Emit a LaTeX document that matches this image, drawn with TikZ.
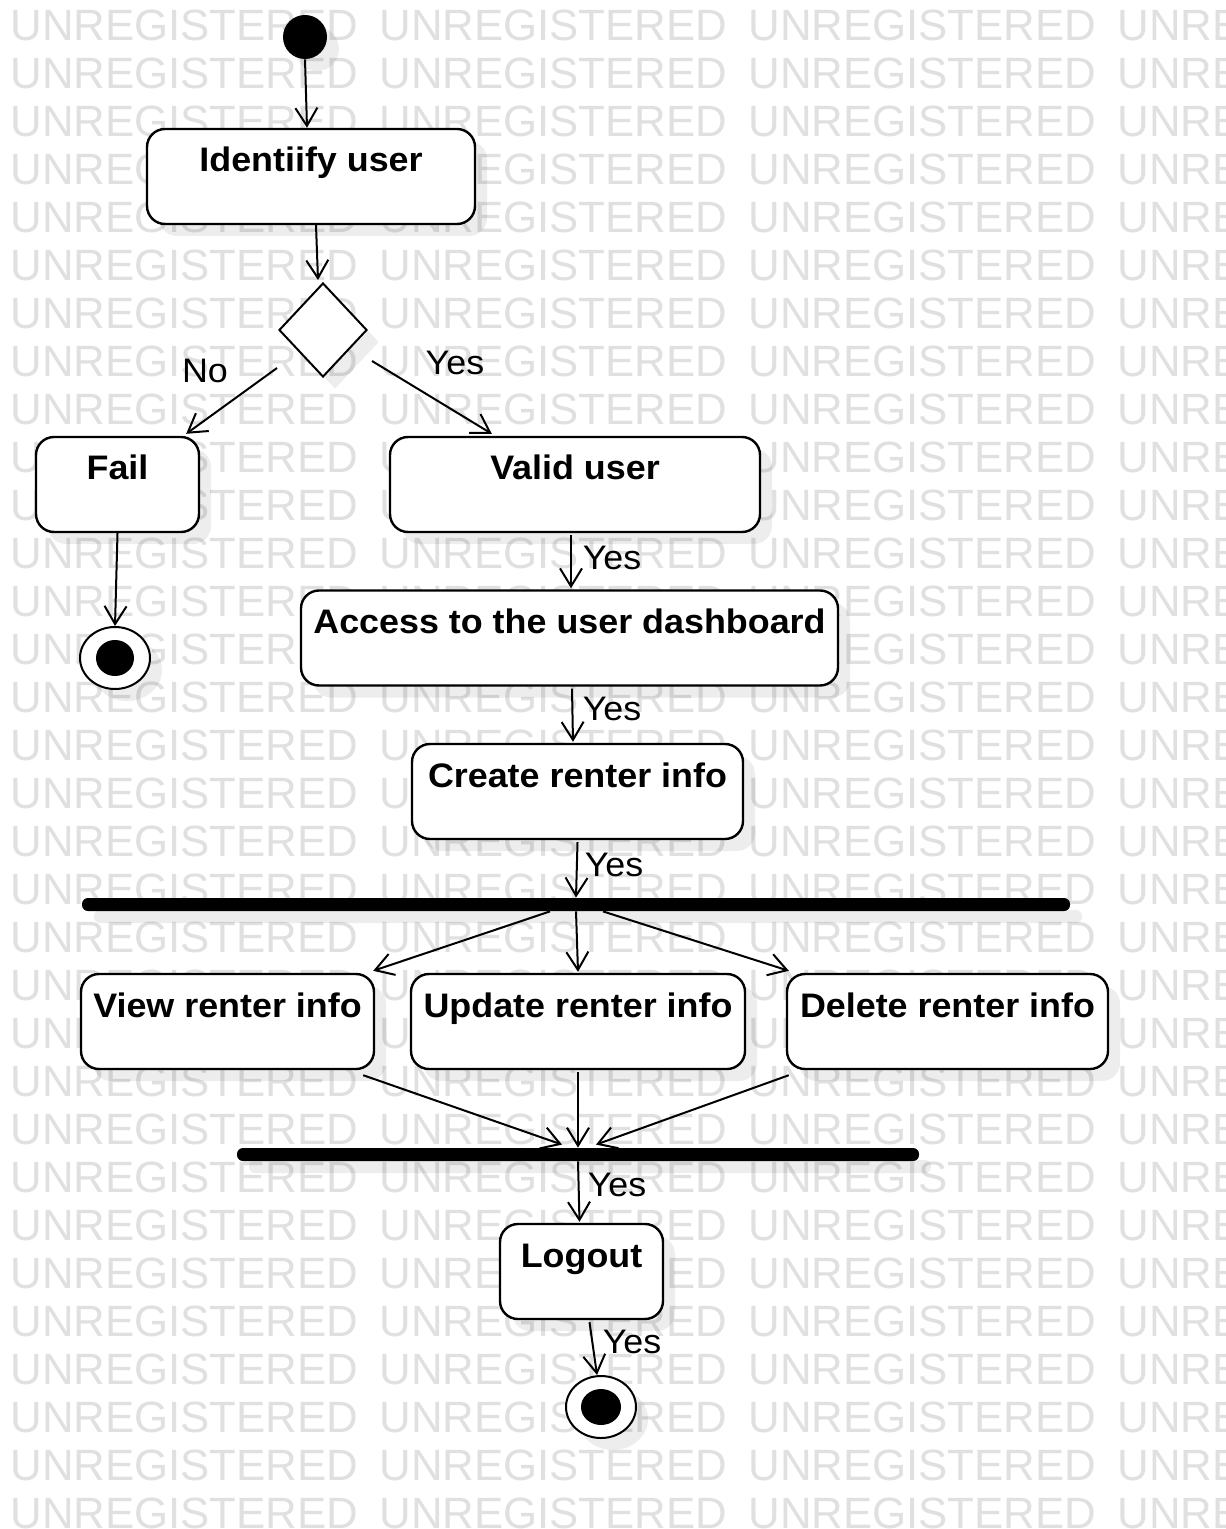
\documentclass[tikz,border=0pt]{standalone}
\usepackage{fontspec}
\setmainfont{Liberation Sans}
\newfontfamily\diagfont[FakeStretch=1.055]{Liberation Sans}
\usetikzlibrary{arrows.meta,shapes.geometric,calc,shadows}

\begin{document}
\begin{tikzpicture}[x=0.5pt,y=-0.5pt,
  softshadow/.style={drop shadow={shadow xshift=6pt,shadow yshift=-6pt,opacity=0.07,fill=black}},
  act/.style={draw=black,line width=1.2pt,fill=white,rounded corners=9pt,
    inner xsep=3pt,inner ysep=0pt,text height=12pt,text depth=16.5pt,
    minimum height=47.5pt,font=\diagfont\fontsize{17}{19}\selectfont\bfseries,softshadow},
  flow/.style={draw,line width=1pt,-{Straight Barb[length=9pt,width=11pt,line width=1pt]}},
  lbl/.style={font=\diagfont\fontsize{17}{19}\selectfont,inner sep=0pt},
  bar/.style={fill=black,rounded corners=3pt,minimum height=6.5pt,inner sep=0pt,softshadow},
  wm/.style={font=\fontsize{21.9}{24}\selectfont,text=black!12,anchor=west,inner sep=0pt}
]
% page and background
\useasboundingbox[fill=white] (0,0) rectangle (1225,1529);

% watermark text
\begin{scope}
  \clip (0,0) rectangle (1225,1529);
  \foreach \r in {0,...,31}
    \foreach \c in {0,...,3}
      \node[wm] (wm-\r-\c) at (10+369*\c, 25+48*\r) {UNREGISTERED};
\end{scope}

% start and decision
\node[circle,fill=black,minimum size=22pt,inner sep=0pt,softshadow] (init) at (305,37) {};
\node[act,minimum width=164pt] (ident) at (311,176.5) {Identiify user};
\node[diamond,draw,line width=1pt,fill=white,minimum width=44pt,minimum height=47pt,
      inner sep=0pt,softshadow] (dec) at (323,330) {};

% first level
\node[act,minimum width=81.5pt] (fail) at (117.5,484.5) {Fail};
\node[act,minimum width=185pt] (valid) at (575,484.5) {Valid user};

% failure end
\node[ellipse,draw,line width=1pt,fill=white,minimum width=35pt,minimum height=31pt,
      inner sep=0pt,softshadow] (fin1) at (115,658) {};
\node[ellipse,fill=black,minimum width=19pt,minimum height=18pt,inner sep=0pt] (fin1c) at (fin1) {};

% main sequence
\node[act,minimum width=268.5pt] (access) at (569.5,638) {Access to the user dashboard};
\node[act,minimum width=165.5pt] (create) at (577.5,791.5) {Create renter info};

% fork
\node[bar,minimum width=494pt] (fork) at (576,904.5) {};

\node[act,minimum width=146.5pt] (view) at (227.5,1021.5) {View renter info};
\node[act,minimum width=167pt] (update) at (578,1021.5) {Update renter info};
\node[act,minimum width=160.5pt] (delete) at (947.5,1021.5) {Delete renter info};

% join
\node[bar,minimum width=341pt] (join) at (578,1154.5) {};

\node[act,minimum width=81.5pt] (logout) at (581.5,1271.5) {Logout};

% final end
\node[ellipse,draw,line width=1pt,fill=white,minimum width=35pt,minimum height=31pt,
      inner sep=0pt,softshadow] (fin2) at (601,1407) {};
\node[ellipse,fill=black,minimum width=20pt,minimum height=18pt,inner sep=0pt] (fin2c) at (fin2) {};

% connectors
\draw[flow] (init.south) -- ($(ident.north)+(-4,0)$);
\draw[flow] ($(ident.south)+(5,0)$) -- ($(dec.north)+(-5,-2)$);
\draw[flow] ($(dec)+(-46,38)$) -- ($(fail.north east)+(-14,-2)$);
\draw[flow] ($(dec)+(49,31)$) -- ($(valid.north west)+(103,-2)$);
\draw[flow] (fail.south) -- (fin1.north);
\draw[flow] ($(valid.south)+(-4,2)$) -- ($(access.north)+(1.5,-1)$);
\draw[flow] ($(access.south)+(2.5,2)$) -- ($(create.north)+(-4.5,-1)$);
\draw[flow] ($(create.south)+(0,2)$) -- (fork.north);
\draw[flow] ($(fork.south)+(-26,0)$) -- ($(view.north east)+(-2,-2)$);
\draw[flow] (fork.south) -- ($(update.north)+(0,-1)$);
\draw[flow] ($(fork.south)+(27,0)$) -- ($(delete.north west)+(3,-2)$);
\draw[flow] ($(view.south east)+(-12,5)$) -- ($(join.north)+(-16,-3)$);
\draw[flow] ($(update.south)+(0,2)$) -- (join.north);
\draw[flow] ($(delete.south west)+(3,5)$) -- ($(join.north)+(18,-3)$);
\draw[flow] (join.south) -- ($(logout.north)+(-2,-1)$);
\draw[flow] ($(logout.south)+(8,2)$) -- ($(fin2.north)+(-4,0)$);

% guard labels
\node[lbl] (lno) at (205,371) {No};
\node[lbl] (lyes0) at (455,363) {Yes};
\node[lbl] (lyes1) at (612,558) {Yes};
\node[lbl] (lyes2) at (612,709) {Yes};
\node[lbl] (lyes3) at (614,865) {Yes};
\node[lbl] (lyes4) at (617,1185) {Yes};
\node[lbl] (lyes5) at (632,1342) {Yes};
\end{tikzpicture}
\end{document}
